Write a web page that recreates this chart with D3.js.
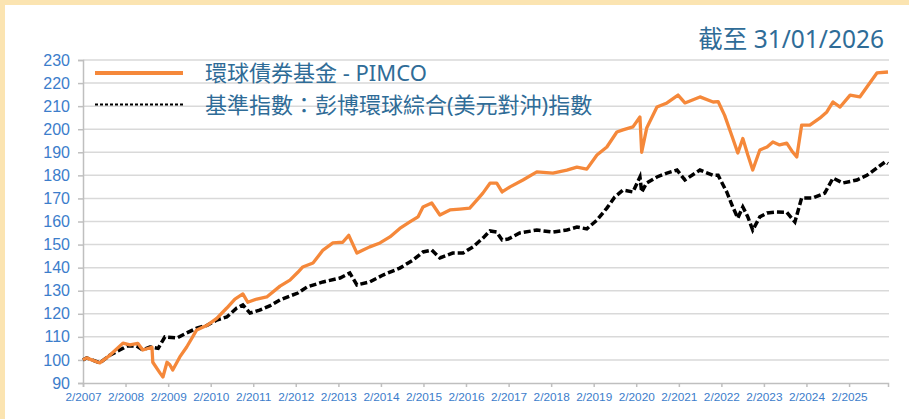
<!DOCTYPE html>
<html><head><meta charset="utf-8">
<script src="https://cdn.jsdelivr.net/npm/d3@7/dist/d3.min.js"></script>
<style>
html,body{margin:0;padding:0;background:#fbe4b1;}
svg{display:block;}
</style></head>
<body>
<svg id="c" width="909" height="419"></svg>
<script>
const title = "截至 31/01/2026";
const seriesNames = ["環球債券基金 - PIMCO", "基準指數：彭博環球綜合(美元對沖)指數"];
const yTicks = [90,100,110,120,130,140,150,160,170,180,190,200,210,220,230];
const xTickLabels = ["2/2007","2/2008","2/2009","2/2010","2/2011","2/2012","2/2013","2/2014","2/2015","2/2016","2/2017","2/2018","2/2019","2/2020","2/2021","2/2022","2/2023","2/2024","2/2025"];

const fundDates = ["2007-02-01","2007-03-04","2007-06-25","2007-09-19","2008-01-10","2008-03-10","2008-05-16","2008-06-28","2008-09-15","2008-09-22","2008-11-22","2008-12-18","2009-01-22","2009-02-15","2009-03-12","2009-05-12","2009-07-10","2009-10-04","2010-01-01","2010-03-25","2010-06-19","2010-08-28","2010-11-04","2010-12-16","2011-03-04","2011-05-28","2011-09-19","2011-12-13","2012-02-19","2012-04-01","2012-06-28","2012-09-22","2012-12-16","2013-03-10","2013-05-01","2013-07-10","2013-09-01","2013-10-28","2014-01-24","2014-04-19","2014-07-13","2014-10-07","2014-12-16","2015-01-28","2015-04-13","2015-06-22","2015-09-16","2015-12-10","2016-03-04","2016-05-04","2016-06-25","2016-08-25","2016-10-22","2016-12-07","2017-02-13","2017-06-04","2017-10-01","2018-02-16","2018-06-16","2018-09-10","2018-12-04","2019-03-01","2019-05-25","2019-08-19","2019-10-10","2020-01-04","2020-03-04","2020-03-19","2020-05-01","2020-07-28","2020-10-22","2021-01-25","2021-03-25","2021-08-01","2021-11-22","2022-01-04","2022-03-01","2022-05-10","2022-06-22","2022-08-04","2022-09-16","2022-10-28","2022-12-28","2023-02-28","2023-04-19","2023-06-16","2023-08-16","2023-10-07","2023-11-10","2023-12-22","2024-03-01","2024-05-25","2024-07-25","2024-09-16","2024-11-16","2025-02-10","2025-05-04","2025-07-04","2025-09-28","2026-01-01"];
const fundValues = [100,100.9,98.7,102,107.3,106.5,107.2,104.3,105.5,99,94.4,92.6,99,97.9,95.6,101.3,105.6,113,115,118,122.5,126.4,128.6,125,126.4,127.3,132,134.6,138,140.3,142,147.6,150.7,151,154,146.3,147.6,149,150.7,153.3,157,159.8,162,166.3,168,162.8,165,165.4,165.8,169.3,172.3,176.6,176.6,172.8,175,178,181.5,181,182.3,183.6,182.7,188.8,192.3,198.8,199.7,201,205.3,190,200.5,209.6,211.4,214.8,211.4,214,211.8,212,206,196,189.7,196,188.8,182.3,191,192.3,194.5,193.2,194,190,188,201.8,201.8,204.8,207.5,211.8,209.6,214.8,214,218.3,224.4,224.8];

const benchDates = ["2007-02-01","2007-03-04","2007-06-25","2007-09-19","2007-12-13","2008-02-13","2008-05-07","2008-06-28","2008-08-28","2008-11-07","2009-01-04","2009-04-16","2009-07-10","2009-10-04","2010-01-01","2010-03-25","2010-06-19","2010-09-13","2010-11-04","2011-01-04","2011-03-28","2011-06-22","2011-09-19","2011-12-13","2012-02-19","2012-05-07","2012-09-22","2013-02-15","2013-05-10","2013-07-10","2013-10-28","2014-02-19","2014-07-13","2014-11-04","2015-01-28","2015-04-13","2015-06-22","2015-10-10","2016-01-06","2016-04-01","2016-06-25","2016-08-25","2016-10-22","2016-12-07","2017-01-28","2017-05-07","2017-10-01","2018-02-16","2018-06-16","2018-09-10","2018-12-04","2019-03-01","2019-05-25","2019-08-01","2019-10-10","2020-01-04","2020-03-04","2020-03-19","2020-05-01","2020-07-28","2020-10-22","2021-01-16","2021-03-25","2021-08-01","2021-11-22","2022-01-04","2022-03-19","2022-05-10","2022-06-22","2022-08-04","2022-09-16","2022-10-28","2022-12-28","2023-02-28","2023-05-22","2023-08-16","2023-10-25","2023-12-22","2024-03-28","2024-07-07","2024-09-16","2024-12-10","2025-04-10","2025-07-04","2025-09-28","2025-12-07","2026-01-01"];
const benchValues = [100,100.9,98.7,102,104.3,106,106,104.3,105.6,105,110,109.5,111.7,113.8,115,117.3,118.6,122.5,123.8,120.3,121.6,123.4,126,127.7,129,131.6,133.8,135.5,137.7,132.5,133.8,136.8,139.8,143.3,146.8,147.6,144.2,146.3,146.3,149,152.8,155.9,155.4,152,152.4,155,156.3,155.4,156.3,157.6,156.8,160.6,165.8,170.6,173.6,172.8,179.3,172.8,176.7,179.3,181,182.3,178,182.3,180,180,172.8,166.3,161.5,166.3,162,156.3,162,163.7,164.1,164,159.8,170.2,170.2,172.3,178.8,176.7,178,180,183.2,185.8,185];

const parse = d3.timeParse("%Y-%m-%d");
const fund = fundDates.map((d,i)=>({date:parse(d), v:fundValues[i]}));
const bench = benchDates.map((d,i)=>({date:parse(d), v:benchValues[i]}));

const svg = d3.select("#c");
svg.append("rect").attr("x",5).attr("y",5).attr("width",904).attr("height",414).attr("fill","#ffffff");

const x = d3.scaleTime().domain([parse("2007-02-01"), parse("2026-01-01")]).range([83, 888]);
const y = d3.scaleLinear().domain([90, 230]).range([383, 60]);

// gridlines
svg.append("g").selectAll("line").data(yTicks.filter(t=>t>90)).join("line")
  .attr("x1",83).attr("x2",889).attr("y1",d=>y(d)).attr("y2",d=>y(d))
  .attr("stroke","#d9d9d9").attr("stroke-width",1.5);

// y axis
const yAxis = d3.axisLeft(y).tickValues(yTicks).tickSize(5).tickPadding(8).tickFormat(d3.format("d"));
const gy = svg.append("g").attr("transform","translate(83,0)").call(yAxis);
gy.select(".domain").attr("stroke","#bfbfbf").attr("stroke-width",1.5);
gy.selectAll(".tick line").attr("stroke","#bfbfbf").attr("stroke-width",1.5);
gy.selectAll(".tick text").attr("fill","#3c7dcb").attr("font-family","'Liberation Sans', Arial, sans-serif").attr("font-size","16px");

// x axis
const xTickDates = xTickLabels.map(s=>{const [m,yr]=s.split("/"); return new Date(+yr, +m-1, 1);});
const xAxis = d3.axisBottom(x).tickValues(xTickDates).tickSize(4).tickPadding(6)
  .tickFormat((d,i)=>xTickLabels[i]);
const gx = svg.append("g").attr("transform","translate(0,383)").call(xAxis);
gx.select(".domain").attr("stroke","#bfbfbf").attr("stroke-width",1.5);
gx.selectAll(".tick line").attr("stroke","#bfbfbf").attr("stroke-width",1.5);
gx.selectAll(".tick text").attr("fill","#3c7dcb").attr("font-family","'Liberation Sans', Arial, sans-serif").attr("font-size","11.8px");

// lines
const line = d3.line().x(d=>x(d.date)).y(d=>y(d.v));
svg.append("path").datum(bench).attr("d",line).attr("fill","none")
  .attr("stroke","#000000").attr("stroke-width",3.5).attr("stroke-dasharray","7,3");
svg.append("path").datum(fund).attr("d",line).attr("fill","none")
  .attr("stroke","#f5883a").attr("stroke-width",3.3).attr("stroke-linejoin","round");

// legend
const lg = svg.append("g");
lg.append("line").attr("x1",95).attr("x2",183).attr("y1",73).attr("y2",73)
  .attr("stroke","#f5883a").attr("stroke-width",4);
lg.append("line").attr("x1",95).attr("x2",183).attr("y1",104.5).attr("y2",104.5)
  .attr("stroke","#000").attr("stroke-width",2).attr("stroke-dasharray","3,2");
const lf = "'Noto Sans', 'Noto Sans CJK TC', sans-serif";
lg.append("text").attr("x",205).attr("y",81).text(seriesNames[0])
  .attr("fill","#2f6c97").attr("font-family",lf).attr("font-size","22px");
lg.append("text").attr("x",205).attr("y",113).text(seriesNames[1])
  .attr("fill","#2f6c97").attr("font-family",lf).attr("font-size","22px");

// title
svg.append("text").attr("x",884).attr("y",48).attr("text-anchor","end").text(title)
  .attr("fill","#2f6c97").attr("font-family",lf).attr("font-size","24.5px");
</script>
</body></html>
